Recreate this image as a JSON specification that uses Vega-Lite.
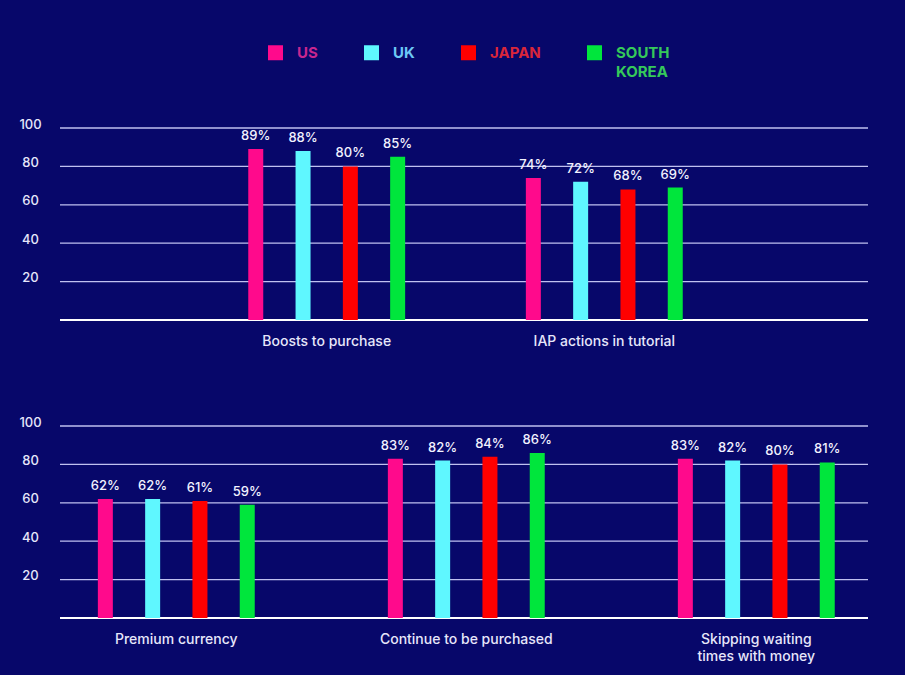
{
  "$schema": "https://vega.github.io/schema/vega-lite/v6.json",
  "background": "#07076a",
  "padding": {"left": 18, "top": 45, "right": 37, "bottom": 15},
  "config": {
    "view": {"stroke": null},
    "font": "Inter",
    "axis": {"labelFont": "Inter", "titleFont": "Inter"},
    "legend": {"labelFont": "Inter"}
  },
  "datasets": {
    "top": [
      {"category": "Boosts to purchase", "country": "US", "value": 89},
      {"category": "Boosts to purchase", "country": "UK", "value": 88},
      {"category": "Boosts to purchase", "country": "JAPAN", "value": 80},
      {"category": "Boosts to purchase", "country": "SOUTH KOREA", "value": 85},
      {"category": "IAP actions in tutorial", "country": "US", "value": 74},
      {"category": "IAP actions in tutorial", "country": "UK", "value": 72},
      {"category": "IAP actions in tutorial", "country": "JAPAN", "value": 68},
      {"category": "IAP actions in tutorial", "country": "SOUTH KOREA", "value": 69}
    ],
    "bottom": [
      {"category": "Premium currency", "country": "US", "value": 62},
      {"category": "Premium currency", "country": "UK", "value": 62},
      {"category": "Premium currency", "country": "JAPAN", "value": 61},
      {"category": "Premium currency", "country": "SOUTH KOREA", "value": 59},
      {"category": "Continue to be purchased", "country": "US", "value": 83},
      {"category": "Continue to be purchased", "country": "UK", "value": 82},
      {"category": "Continue to be purchased", "country": "JAPAN", "value": 84},
      {"category": "Continue to be purchased", "country": "SOUTH KOREA", "value": 86},
      {"category": "Skipping waiting times with money", "country": "US", "value": 83},
      {"category": "Skipping waiting times with money", "country": "UK", "value": 82},
      {"category": "Skipping waiting times with money", "country": "JAPAN", "value": 80},
      {"category": "Skipping waiting times with money", "country": "SOUTH KOREA", "value": 81}
    ]
  },
  "spacing": 68,
  "resolve": {"scale": {"x": "independent", "xOffset": "independent"}},
  "vconcat": [
    {
      "width": 808,
      "height": 192,
      "layer": [
        {"data": {"values": [{}]}, "mark": {"type": "rule", "color": "#bfc0f0", "strokeWidth": 1.3}, "encoding": {"y": {"datum": 20, "type": "quantitative", "scale": {"domain": [0, 100]}, "axis": {"title": null, "values": [0, 20, 40, 60, 80, 100], "domain": false, "ticks": false, "tickSize": 0, "grid": false, "labelOverlap": false, "labelPadding": 30, "labelAlign": "center", "labelOffset": -4, "labelFontSize": 13, "labelFontWeight": 500, "labelColor": "#e6e6fa", "labelExpr": "datum.value === 0 ? '' : datum.label"}}}},
        {"data": {"values": [{}]}, "mark": {"type": "rule", "color": "#bfc0f0", "strokeWidth": 1.3}, "encoding": {"y": {"datum": 40, "type": "quantitative", "scale": {"domain": [0, 100]}, "axis": {"title": null, "values": [0, 20, 40, 60, 80, 100], "domain": false, "ticks": false, "tickSize": 0, "grid": false, "labelOverlap": false, "labelPadding": 30, "labelAlign": "center", "labelOffset": -4, "labelFontSize": 13, "labelFontWeight": 500, "labelColor": "#e6e6fa", "labelExpr": "datum.value === 0 ? '' : datum.label"}}}},
        {"data": {"values": [{}]}, "mark": {"type": "rule", "color": "#bfc0f0", "strokeWidth": 1.3}, "encoding": {"y": {"datum": 60, "type": "quantitative", "scale": {"domain": [0, 100]}, "axis": {"title": null, "values": [0, 20, 40, 60, 80, 100], "domain": false, "ticks": false, "tickSize": 0, "grid": false, "labelOverlap": false, "labelPadding": 30, "labelAlign": "center", "labelOffset": -4, "labelFontSize": 13, "labelFontWeight": 500, "labelColor": "#e6e6fa", "labelExpr": "datum.value === 0 ? '' : datum.label"}}}},
        {"data": {"values": [{}]}, "mark": {"type": "rule", "color": "#bfc0f0", "strokeWidth": 1.3}, "encoding": {"y": {"datum": 80, "type": "quantitative", "scale": {"domain": [0, 100]}, "axis": {"title": null, "values": [0, 20, 40, 60, 80, 100], "domain": false, "ticks": false, "tickSize": 0, "grid": false, "labelOverlap": false, "labelPadding": 30, "labelAlign": "center", "labelOffset": -4, "labelFontSize": 13, "labelFontWeight": 500, "labelColor": "#e6e6fa", "labelExpr": "datum.value === 0 ? '' : datum.label"}}}},
        {"data": {"values": [{}]}, "mark": {"type": "rule", "color": "#bfc0f0", "strokeWidth": 1.3}, "encoding": {"y": {"datum": 100, "type": "quantitative", "scale": {"domain": [0, 100]}, "axis": {"title": null, "values": [0, 20, 40, 60, 80, 100], "domain": false, "ticks": false, "tickSize": 0, "grid": false, "labelOverlap": false, "labelPadding": 30, "labelAlign": "center", "labelOffset": -4, "labelFontSize": 13, "labelFontWeight": 500, "labelColor": "#e6e6fa", "labelExpr": "datum.value === 0 ? '' : datum.label"}}}},
        {"data": {"values": [{}]}, "mark": {"type": "rule", "color": "#ffffff", "strokeWidth": 2}, "encoding": {"y": {"datum": 0, "type": "quantitative", "scale": {"domain": [0, 100]}, "axis": {"title": null, "values": [0, 20, 40, 60, 80, 100], "domain": false, "ticks": false, "tickSize": 0, "grid": false, "labelOverlap": false, "labelPadding": 30, "labelAlign": "center", "labelOffset": -4, "labelFontSize": 13, "labelFontWeight": 500, "labelColor": "#e6e6fa", "labelExpr": "datum.value === 0 ? '' : datum.label"}}}},
        {
          "data": {"name": "top"},
          "mark": {"type": "bar", "width": 15},
          "encoding": {
            "x": {
              "field": "category", "type": "nominal",
              "sort": ["Boosts to purchase", "IAP actions in tutorial"],
              "scale": {"range": [127.9, 683.1], "paddingInner": 0, "paddingOuter": 0},
              "axis": {"title": null, "labelAngle": 0, "ticks": false, "domain": false, "labelPadding": 14, "labelFontSize": 14, "labelFontWeight": 500, "labelColor": "#e6e6fa", "labelLimit": 300, "labelLineHeight": 17}
            },
            "xOffset": {
              "field": "country", "type": "nominal",
              "sort": ["US", "UK", "JAPAN", "SOUTH KOREA"],
              "scale": {"range": [44.2, 233.4], "paddingInner": 0, "paddingOuter": 0}
            },
            "y": {
              "field": "value", "type": "quantitative",
              "scale": {"domain": [0, 100]},
              "axis": {"title": null, "values": [0, 20, 40, 60, 80, 100], "domain": false, "ticks": false, "tickSize": 0, "grid": false, "labelOverlap": false, "labelPadding": 30, "labelAlign": "center", "labelOffset": -4, "labelFontSize": 13, "labelFontWeight": 500, "labelColor": "#e6e6fa", "labelExpr": "datum.value === 0 ? '' : datum.label"}
            },
            "color": {
              "field": "country", "type": "nominal",
              "scale": {"domain": ["US", "UK", "JAPAN", "SOUTH KOREA"], "range": ["#ff0a8c", "#5ff7ff", "#ff0000", "#00e63c"]},
              "legend": {
                "title": null, "orient": "none", "legendX": 208, "legendY": -83, "direction": "horizontal",
                "symbolType": "square", "symbolSize": 225, "symbolStrokeWidth": 0, "symbolOpacity": 1,
                "labelFontSize": 15, "labelFontWeight": "bold", "labelOffset": 14, "columnPadding": 46,
                "labelExpr": "datum.label == 'SOUTH KOREA' ? ['SOUTH', 'KOREA'] : [datum.label, ' ']",
                "encode": {"labels": {"update": {"fill": {"signal": "datum.value == 'US' ? '#c8268f' : datum.value == 'UK' ? '#6cc8f5' : datum.value == 'JAPAN' ? '#d9263a' : '#35c95a'"}, "lineHeight": {"value": 19}}}}
              }
            }
          }
        },
        {
          "data": {"name": "top"},
          "transform": [{"calculate": "datum.value + '%'", "as": "label"}],
          "mark": {"type": "text", "dy": -13, "fontSize": 13, "fontWeight": 500, "color": "#f2f2ff", "baseline": "middle"},
          "encoding": {
            "x": {"field": "category", "type": "nominal", "sort": ["Boosts to purchase", "IAP actions in tutorial"]},
            "xOffset": {"field": "country", "type": "nominal", "sort": ["US", "UK", "JAPAN", "SOUTH KOREA"]},
            "y": {"field": "value", "type": "quantitative", "scale": {"domain": [0, 100]}, "axis": {"title": null, "values": [0, 20, 40, 60, 80, 100], "domain": false, "ticks": false, "tickSize": 0, "grid": false, "labelOverlap": false, "labelPadding": 30, "labelAlign": "center", "labelOffset": -4, "labelFontSize": 13, "labelFontWeight": 500, "labelColor": "#e6e6fa", "labelExpr": "datum.value === 0 ? '' : datum.label"}},
            "text": {"field": "label"}
          }
        }
      ]
    },
    {
      "width": 808,
      "height": 192,
      "layer": [
        {"data": {"values": [{}]}, "mark": {"type": "rule", "color": "#bfc0f0", "strokeWidth": 1.3}, "encoding": {"y": {"datum": 20, "type": "quantitative", "scale": {"domain": [0, 100]}, "axis": {"title": null, "values": [0, 20, 40, 60, 80, 100], "domain": false, "ticks": false, "tickSize": 0, "grid": false, "labelOverlap": false, "labelPadding": 30, "labelAlign": "center", "labelOffset": -4, "labelFontSize": 13, "labelFontWeight": 500, "labelColor": "#e6e6fa", "labelExpr": "datum.value === 0 ? '' : datum.label"}}}},
        {"data": {"values": [{}]}, "mark": {"type": "rule", "color": "#bfc0f0", "strokeWidth": 1.3}, "encoding": {"y": {"datum": 40, "type": "quantitative", "scale": {"domain": [0, 100]}, "axis": {"title": null, "values": [0, 20, 40, 60, 80, 100], "domain": false, "ticks": false, "tickSize": 0, "grid": false, "labelOverlap": false, "labelPadding": 30, "labelAlign": "center", "labelOffset": -4, "labelFontSize": 13, "labelFontWeight": 500, "labelColor": "#e6e6fa", "labelExpr": "datum.value === 0 ? '' : datum.label"}}}},
        {"data": {"values": [{}]}, "mark": {"type": "rule", "color": "#bfc0f0", "strokeWidth": 1.3}, "encoding": {"y": {"datum": 60, "type": "quantitative", "scale": {"domain": [0, 100]}, "axis": {"title": null, "values": [0, 20, 40, 60, 80, 100], "domain": false, "ticks": false, "tickSize": 0, "grid": false, "labelOverlap": false, "labelPadding": 30, "labelAlign": "center", "labelOffset": -4, "labelFontSize": 13, "labelFontWeight": 500, "labelColor": "#e6e6fa", "labelExpr": "datum.value === 0 ? '' : datum.label"}}}},
        {"data": {"values": [{}]}, "mark": {"type": "rule", "color": "#bfc0f0", "strokeWidth": 1.3}, "encoding": {"y": {"datum": 80, "type": "quantitative", "scale": {"domain": [0, 100]}, "axis": {"title": null, "values": [0, 20, 40, 60, 80, 100], "domain": false, "ticks": false, "tickSize": 0, "grid": false, "labelOverlap": false, "labelPadding": 30, "labelAlign": "center", "labelOffset": -4, "labelFontSize": 13, "labelFontWeight": 500, "labelColor": "#e6e6fa", "labelExpr": "datum.value === 0 ? '' : datum.label"}}}},
        {"data": {"values": [{}]}, "mark": {"type": "rule", "color": "#bfc0f0", "strokeWidth": 1.3}, "encoding": {"y": {"datum": 100, "type": "quantitative", "scale": {"domain": [0, 100]}, "axis": {"title": null, "values": [0, 20, 40, 60, 80, 100], "domain": false, "ticks": false, "tickSize": 0, "grid": false, "labelOverlap": false, "labelPadding": 30, "labelAlign": "center", "labelOffset": -4, "labelFontSize": 13, "labelFontWeight": 500, "labelColor": "#e6e6fa", "labelExpr": "datum.value === 0 ? '' : datum.label"}}}},
        {"data": {"values": [{}]}, "mark": {"type": "rule", "color": "#ffffff", "strokeWidth": 2}, "encoding": {"y": {"datum": 0, "type": "quantitative", "scale": {"domain": [0, 100]}, "axis": {"title": null, "values": [0, 20, 40, 60, 80, 100], "domain": false, "ticks": false, "tickSize": 0, "grid": false, "labelOverlap": false, "labelPadding": 30, "labelAlign": "center", "labelOffset": -4, "labelFontSize": 13, "labelFontWeight": 500, "labelColor": "#e6e6fa", "labelExpr": "datum.value === 0 ? '' : datum.label"}}}},
        {
          "data": {"name": "bottom"},
          "mark": {"type": "bar", "width": 15},
          "encoding": {
            "x": {
              "field": "category", "type": "nominal",
              "sort": ["Premium currency", "Continue to be purchased", "Skipping waiting times with money"],
              "scale": {"range": [-28.7, 841.3], "paddingInner": 0, "paddingOuter": 0},
              "axis": {"title": null, "labelAngle": 0, "ticks": false, "domain": false, "labelPadding": 14, "labelFontSize": 14, "labelFontWeight": 500, "labelColor": "#e6e6fa", "labelLimit": 300, "labelLineHeight": 17,
                "labelExpr": "datum.label == 'Skipping waiting times with money' ? ['Skipping waiting', 'times with money'] : datum.label"}
            },
            "xOffset": {
              "field": "country", "type": "nominal",
              "sort": ["US", "UK", "JAPAN", "SOUTH KOREA"],
              "scale": {"range": [50.4, 239.6], "paddingInner": 0, "paddingOuter": 0}
            },
            "y": {
              "field": "value", "type": "quantitative",
              "scale": {"domain": [0, 100]},
              "axis": {"title": null, "values": [0, 20, 40, 60, 80, 100], "domain": false, "ticks": false, "tickSize": 0, "grid": false, "labelOverlap": false, "labelPadding": 30, "labelAlign": "center", "labelOffset": -4, "labelFontSize": 13, "labelFontWeight": 500, "labelColor": "#e6e6fa", "labelExpr": "datum.value === 0 ? '' : datum.label"}
            },
            "color": {
              "field": "country", "type": "nominal",
              "scale": {"domain": ["US", "UK", "JAPAN", "SOUTH KOREA"], "range": ["#ff0a8c", "#5ff7ff", "#ff0000", "#00e63c"]},
              "legend": {
                "title": null, "orient": "none", "legendX": 208, "legendY": -83, "direction": "horizontal",
                "symbolType": "square", "symbolSize": 225, "symbolStrokeWidth": 0, "symbolOpacity": 1,
                "labelFontSize": 15, "labelFontWeight": "bold", "labelOffset": 14, "columnPadding": 46,
                "labelExpr": "datum.label == 'SOUTH KOREA' ? ['SOUTH', 'KOREA'] : [datum.label, ' ']",
                "encode": {"labels": {"update": {"fill": {"signal": "datum.value == 'US' ? '#c8268f' : datum.value == 'UK' ? '#6cc8f5' : datum.value == 'JAPAN' ? '#d9263a' : '#35c95a'"}, "lineHeight": {"value": 19}}}}
              }
            }
          }
        },
        {
          "data": {"name": "bottom"},
          "transform": [{"calculate": "datum.value + '%'", "as": "label"}],
          "mark": {"type": "text", "dy": -13, "fontSize": 13, "fontWeight": 500, "color": "#f2f2ff", "baseline": "middle"},
          "encoding": {
            "x": {"field": "category", "type": "nominal", "sort": ["Premium currency", "Continue to be purchased", "Skipping waiting times with money"]},
            "xOffset": {"field": "country", "type": "nominal", "sort": ["US", "UK", "JAPAN", "SOUTH KOREA"]},
            "y": {"field": "value", "type": "quantitative", "scale": {"domain": [0, 100]}, "axis": {"title": null, "values": [0, 20, 40, 60, 80, 100], "domain": false, "ticks": false, "tickSize": 0, "grid": false, "labelOverlap": false, "labelPadding": 30, "labelAlign": "center", "labelOffset": -4, "labelFontSize": 13, "labelFontWeight": 500, "labelColor": "#e6e6fa", "labelExpr": "datum.value === 0 ? '' : datum.label"}},
            "text": {"field": "label"}
          }
        }
      ]
    }
  ]
}
